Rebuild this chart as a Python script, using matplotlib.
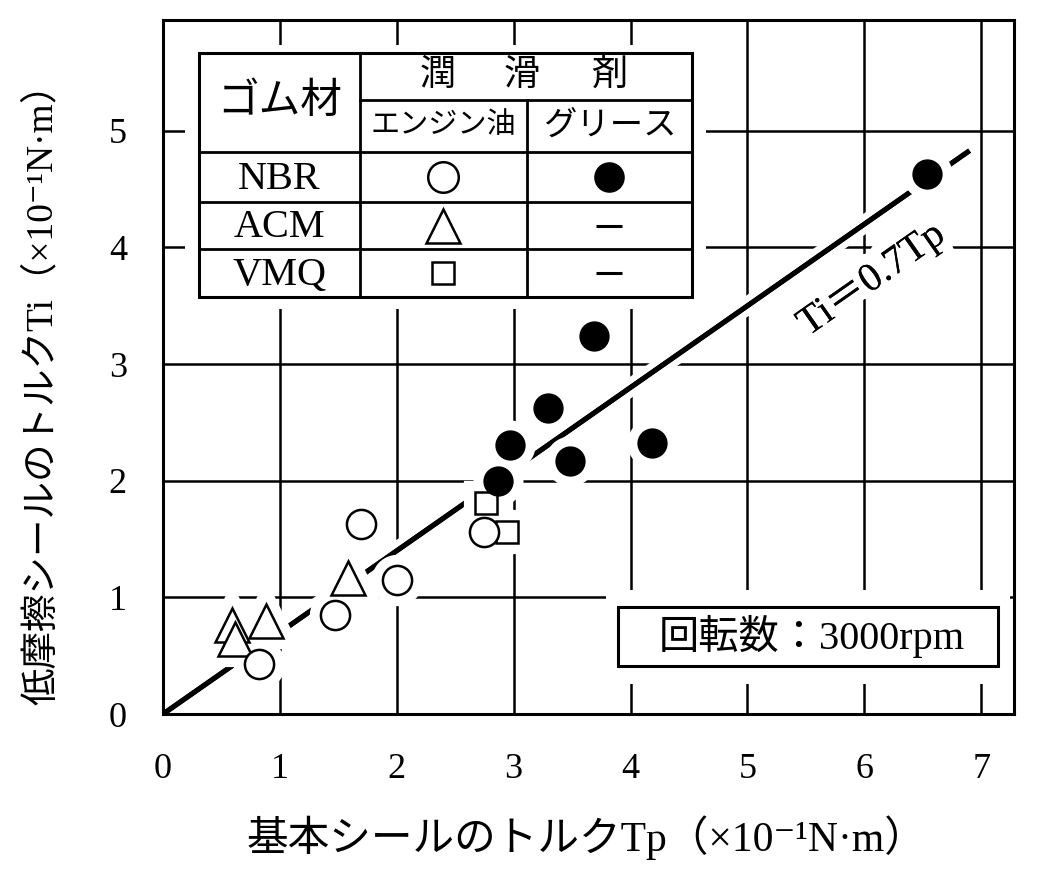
import matplotlib
matplotlib.use('Agg')
import numpy as np
import matplotlib.pyplot as plt
import matplotlib.patheffects as pe
from matplotlib.patches import Rectangle

# 英字はTimes系、和文はNoto CJKにフォールバック
plt.rcParams['font.family'] = ['Liberation Serif', 'Noto Sans CJK JP', 'DejaVu Serif']

# エンジン油 / NBR (白丸)
nbr_oil_x = [1.69, 2.00, 1.47, 0.82, 2.75]
nbr_oil_y = [1.63, 1.15, 0.85, 0.43, 1.56]
# グリース / NBR (黒丸)
nbr_grease_x = [2.87, 2.97, 3.29, 3.48, 3.69, 4.18, 6.54]
nbr_grease_y = [2.00, 2.31, 2.62, 2.17, 3.24, 2.32, 4.63]
# エンジン油 / ACM (三角)
acm_x = [0.59, 0.62, 0.88, 1.58]
acm_y = [0.76, 0.64, 0.80, 1.17]
# エンジン油 / VMQ (四角)
vmq_x = [2.76, 2.94]
vmq_y = [1.81, 1.56]

# Ti = 0.7Tp
slope = 0.7
fit_x = np.array([0.0, 6.9])

x_ticks = [0, 1, 2, 3, 4, 5, 6, 7]
y_ticks = [0, 1, 2, 3, 4, 5]

rubbers = ['NBR', 'ACM', 'VMQ']
header_chars = ['潤', '滑', '剤']

fig = plt.figure(figsize=(10.49, 8.94), dpi=100)
ax = fig.add_axes([0.1554, 0.2013, 0.8112, 0.7763])
ax.set_xlim(0, 7.28)
ax.set_ylim(0, 5.95)

# グリッド
for xv in x_ticks[1:]:
    ax.axvline(xv, color='black', lw=1.8, zorder=1)
for yv in y_ticks[1:]:
    ax.axhline(yv, color='black', lw=1.8, zorder=1)

ax.set_xticks(x_ticks)
ax.set_yticks(y_ticks)
ax.tick_params(length=0, labelsize=26)
ax.tick_params(axis='x', pad=28)
ax.tick_params(axis='y', pad=26)
for sp in ax.spines.values():
    sp.set_linewidth(2.2)
    sp.set_zorder(10)

# 近似直線 (白い縁取りでグリッドを切る)
ax.plot(fit_x, slope * fit_x, color='black', lw=3.6, solid_capstyle='butt', zorder=2,
        path_effects=[pe.withStroke(linewidth=13, foreground='white'), pe.Normal()])
ax.text(0.833, 0.625, 'Ti＝0.7Tp', transform=ax.transAxes, fontsize=29,
        rotation=35, rotation_mode='anchor', ha='center', va='center', zorder=2,
        path_effects=[pe.withStroke(linewidth=16, foreground='white'), pe.Normal()])

series = [
    (acm_x, acm_y, '^', 24, 'white'),
    (vmq_x, vmq_y, 's', 16, 'white'),
    (nbr_oil_x, nbr_oil_y, 'o', 21, 'white'),
    (nbr_grease_x, nbr_grease_y, 'o', 20, 'black'),
]
# 白い縁取り
for sx, sy, m, ms, fc in series:
    ax.plot(sx, sy, ls='none', marker=m, ms=ms, mfc='white', mec='white', mew=16, zorder=3)
for sx, sy, m, ms, fc in series:
    ax.plot(sx, sy, ls='none', marker=m, ms=ms, mfc=fc, mec='black', mew=1.8, zorder=4)

# 凡例の表
col_x = [0.0423, 0.2315, 0.4277, 0.6216]
row_y = [0.9524, 0.8847, 0.8098, 0.7378, 0.6700, 0.6009]
tr = ax.transAxes
ax.add_patch(Rectangle((col_x[0] - 0.016, row_y[-1] - 0.018),
                       col_x[-1] - col_x[0] + 0.032, row_y[0] - row_y[-1] + 0.03,
                       transform=tr, facecolor='white', edgecolor='none', zorder=5))
ax.add_patch(Rectangle((col_x[0], row_y[-1]), col_x[-1] - col_x[0], row_y[0] - row_y[-1],
                       transform=tr, facecolor='white', edgecolor='black', lw=2.2, zorder=6))
lk = dict(transform=tr, color='black', lw=2.0, zorder=6)
ax.plot([col_x[1], col_x[3]], [row_y[1], row_y[1]], **lk)
for ry in row_y[2:5]:
    ax.plot([col_x[0], col_x[3]], [ry, ry], **lk)
ax.plot([col_x[1], col_x[1]], [row_y[0], row_y[-1]], **lk)
ax.plot([col_x[2], col_x[2]], [row_y[1], row_y[-1]], **lk)

tk = dict(transform=tr, ha='center', va='center', zorder=7)
ax.text((col_x[0] + col_x[1]) / 2, (row_y[0] + row_y[2]) / 2, 'ゴム材', fontsize=30, **tk)
for cx, ch in zip([0.323, 0.422, 0.525], header_chars):
    ax.text(cx, (row_y[0] + row_y[1]) / 2, ch, fontsize=26, **tk)
ax.text((col_x[1] + col_x[2]) / 2, (row_y[1] + row_y[2]) / 2, 'エンジン油', fontsize=21, **tk)
ax.text((col_x[2] + col_x[3]) / 2, (row_y[1] + row_y[2]) / 2, 'グリース', fontsize=24, **tk)

row_mid = [(row_y[i] + row_y[i + 1]) / 2 for i in range(2, 5)]
oil_marks = [('o', 22, 'white'), ('^', 25, 'white'), ('s', 16, 'white')]
for name, ym, (m, ms, fc) in zip(rubbers, row_mid, oil_marks):
    ax.text((col_x[0] + col_x[1]) / 2, ym - 0.003, name, fontsize=29, **tk)
    ax.plot([(col_x[1] + col_x[2]) / 2], [ym], marker=m, ms=ms, mfc=fc, mec='black',
            mew=1.8, transform=tr, zorder=7)
gx = (col_x[2] + col_x[3]) / 2
ax.plot([gx], [row_mid[0]], marker='o', ms=21, mfc='black', mec='black', transform=tr, zorder=7)
for ym in row_mid[1:]:
    ax.plot([gx], [ym], marker='_', ms=19, mew=2.2, color='black', transform=tr, zorder=7)

# 回転数の枠
bx0, bx1, by0, by1 = 0.5347, 0.9812, 0.0692, 0.1542
ax.add_patch(Rectangle((bx0 - 0.014, by0 - 0.026), bx1 - bx0 + 0.028, by1 - by0 + 0.05,
                       transform=tr, facecolor='white', edgecolor='none', zorder=5))
ax.add_patch(Rectangle((bx0, by0), bx1 - bx0, by1 - by0, transform=tr,
                       facecolor='white', edgecolor='black', lw=2.2, zorder=6))
ax.text((bx0 + bx1) / 2 + 0.005, (by0 + by1) / 2, '回転数：3000rpm', fontsize=29, **tk)

fig.text(586 / 1049, 1 - 838 / 894, '基本シールのトルクTp（×10⁻¹N·m）',
         fontsize=30, ha='center', va='center')
fig.text(42 / 1049, 1 - 385 / 894, '低摩擦シールのトルクTi（×10⁻¹N·m）',
         fontsize=27, ha='center', va='center', rotation=90)

plt.savefig('out.png', dpi=100)
